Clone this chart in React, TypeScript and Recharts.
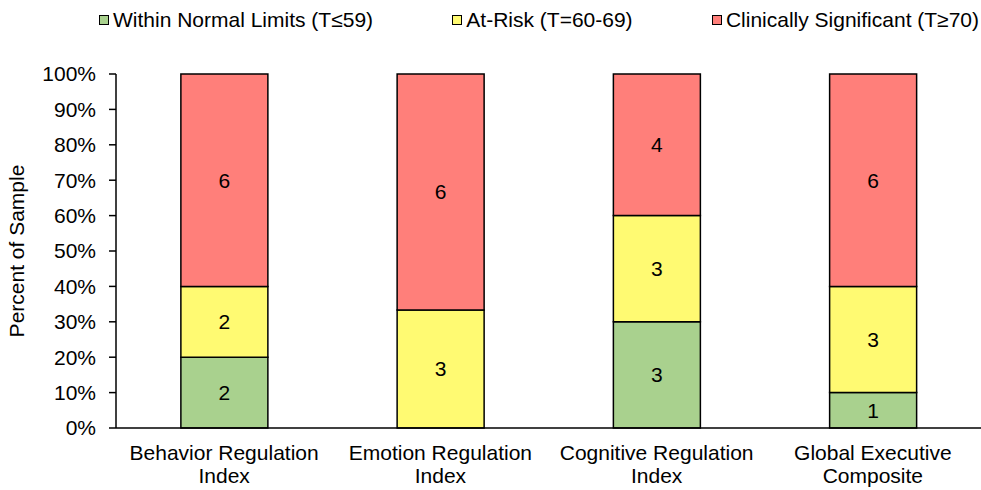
import { BarChart, Bar, XAxis, YAxis, LabelList } from "recharts";

// counts per index (n per category)
const categories = [
  ["Behavior Regulation", "Index"],
  ["Emotion Regulation", "Index"],
  ["Cognitive Regulation", "Index"],
  ["Global Executive", "Composite"],
];
const withinNormal = [2, 0, 3, 1];
const atRisk = [2, 3, 3, 3];
const clinical = [6, 6, 4, 6];
const yTicks = [0, 0.1, 0.2, 0.3, 0.4, 0.5, 0.6, 0.7, 0.8, 0.9, 1];

const series = [
  { key: "wnl", name: "Within Normal Limits (T≤59)", color: "#A9D18E" },
  { key: "risk", name: "At-Risk (T=60-69)", color: "#FFFA72" },
  { key: "clin", name: "Clinically Significant (T≥70)", color: "#FF7F7A" },
];

const rows = categories.map((c, i) => ({
  name: c.join(" "),
  wnl: withinNormal[i],
  risk: atRisk[i],
  clin: clinical[i],
}));

const FONT = "'Liberation Sans', Arial, sans-serif";
const FS = 21;

function CategoryTick({ x, y, payload, index }: any) {
  const lines = categories[index] ?? [String(payload.value)];
  return (
    <text x={x} y={y} textAnchor="middle" fontSize={FS} fill="#000" fontFamily={FONT}>
      {lines.map((l, i) => (
        <tspan key={i} x={x} dy={i === 0 ? 24 : 23}>
          {l}
        </tspan>
      ))}
    </text>
  );
}

function TopLegend() {
  return (
    <div
      style={{
        position: "absolute",
        top: 8,
        left: 99,
        width: 880,
        display: "flex",
        justifyContent: "space-between",
        fontFamily: FONT,
        fontSize: FS,
        lineHeight: "24px",
        color: "#000",
      }}
    >
      {series.map((s) => (
        <div key={s.key} style={{ display: "flex", alignItems: "center" }}>
          <span
            style={{
              display: "inline-block",
              width: 8,
              height: 8,
              background: s.color,
              border: "1.5px solid #000",
              marginRight: 4,
            }}
          />
          <span>{s.name}</span>
        </div>
      ))}
    </div>
  );
}

const countLabel = (v: any) => (v === 0 ? "" : v);

export default function App() {
  return (
    <div style={{ position: "fixed", left: 0, top: 0, width: 981, height: 490, background: "#fff" }}>
      <TopLegend />
      <BarChart
        width={981}
        height={490}
        data={rows}
        stackOffset="expand"
        barCategoryGap="30%"
        margin={{ top: 74, right: 0, left: 0, bottom: 0 }}
      >
        <XAxis
          dataKey="name"
          height={62}
          tick={<CategoryTick />}
          tickLine={false}
          axisLine={{ stroke: "#000", strokeWidth: 1.5 }}
          interval={0}
        />
        <YAxis
          width={116}
          domain={[0, 1]}
          ticks={yTicks}
          tickFormatter={(v: number) => `${Math.round(v * 100)}%`}
          tick={{ fontSize: FS, fill: "#000", fontFamily: FONT }}
          tickSize={7}
          tickMargin={13}
          tickLine={{ stroke: "#000", strokeWidth: 1.5 }}
          axisLine={{ stroke: "#000", strokeWidth: 1.5 }}
          label={({ viewBox }: any) => (
            <text
              x={24}
              y={viewBox.y + viewBox.height / 2}
              transform={`rotate(-90 24 ${viewBox.y + viewBox.height / 2})`}
              textAnchor="middle"
              fontSize={FS}
              fill="#000"
              fontFamily={FONT}
            >
              Percent of Sample
            </text>
          )}
        />
        {series.map((s) => (
          <Bar
            key={s.key}
            dataKey={s.key}
            name={s.name}
            stackId="a"
            fill={s.color}
            stroke="#000"
            strokeWidth={1.5}
            isAnimationActive={false}
          >
            <LabelList
              dataKey={s.key}
              position="center"
              formatter={countLabel}
              style={{ fontSize: FS, fill: "#000", fontFamily: FONT }}
            />
          </Bar>
        ))}
      </BarChart>
    </div>
  );
}
